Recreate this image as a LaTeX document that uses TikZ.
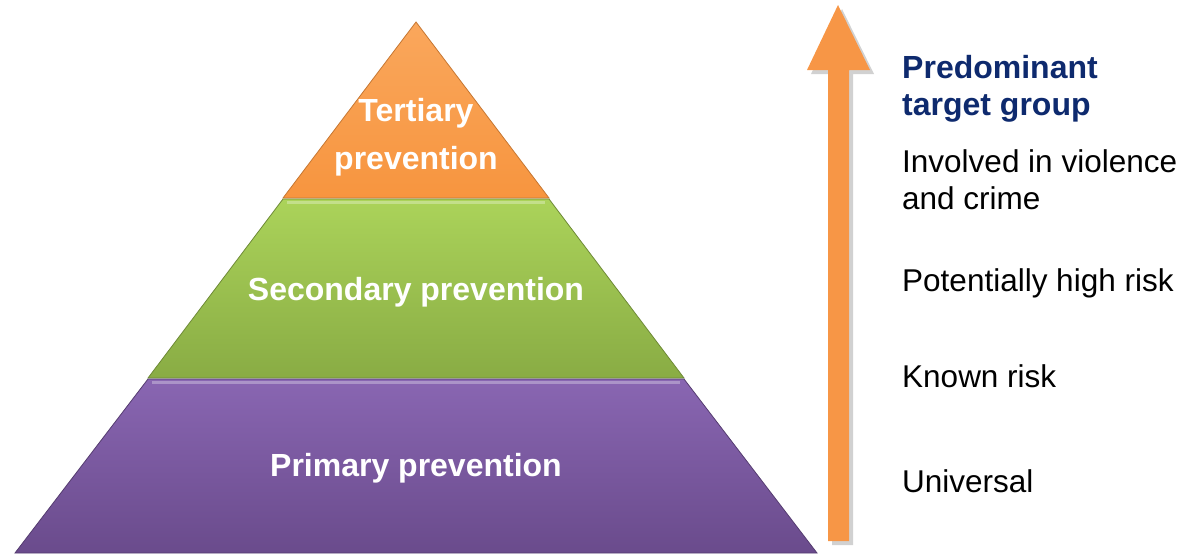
\documentclass[tikz,border=0pt]{standalone}
\usepackage{fontspec}
\setmainfont{Liberation Sans}
\definecolor{tertTop}{HTML}{FAA75C}
\definecolor{tertBot}{HTML}{F7953F}
\definecolor{secTop}{HTML}{ABD35A}
\definecolor{secBot}{HTML}{89AC44}
\definecolor{primTop}{HTML}{8966B2}
\definecolor{primBot}{HTML}{6A4B8C}
\definecolor{arrowOrange}{HTML}{F79646}
\definecolor{titleBlue}{HTML}{0E2A6E}
\begin{document}
\begin{tikzpicture}[x=1pt,y=-1pt,
band/.style={shading=axis,shading angle=0,line width=0.8pt},
bevel/.style={white,opacity=0.3,line width=3pt},
bandtext/.style={text=white,font=\bfseries\fontsize{32}{48}\selectfont,align=center,inner sep=0pt},
grouptext/.style={anchor=base west,inner sep=0pt,align=left,font=\fontsize{31.5}{37}\selectfont}]
\useasboundingbox (0,0) rectangle (1191,555);

% the three levels of the pyramid
\draw[band,draw=tertBot!80!black,top color=tertTop,bottom color=tertBot] (416,22) -- (549,198) -- (283,198) -- cycle;
\draw[band,draw=secBot!80!black,top color=secTop,bottom color=secBot] (283,199) -- (549,199) -- (684,378) -- (148,378) -- cycle;
\draw[band,draw=primBot!80!black,top color=primTop,bottom color=primBot] (148,379) -- (684,379) -- (817,553) -- (15,553) -- cycle;
\draw[bevel] (287,202) -- (545,202);
\draw[bevel] (152,382) -- (680,382);

\draw (416,137) node[bandtext] (tert) {Tertiary\\prevention};
\draw (416,292) node[bandtext] (sec) {Secondary prevention};
\draw (416,468) node[bandtext] (prim) {Primary prevention};

% rising arrow with its shadow
\fill[black,opacity=0.18] (832,545) -- (832,74) -- (811,74) -- (842,9) -- (874,74) -- (853,74) -- (853,545) -- cycle;
\fill[arrowOrange] (828,541) -- (828,70) -- (807,70) -- (838,5) -- (870,70) -- (849,70) -- (849,541) -- cycle;

% target groups (base is the last line)
\draw (902,115) node[grouptext,text=titleBlue,font=\bfseries\fontsize{32}{37}\selectfont] (title) {Predominant\\target group};
\draw (902,209) node[grouptext] (involved) {Involved in violence\\and crime};
\draw (902,291) node[grouptext] (high) {Potentially high risk};
\draw (902,387) node[grouptext] (known) {Known risk};
\draw (902,492) node[grouptext] (universal) {Universal};

\end{tikzpicture}
\end{document}
